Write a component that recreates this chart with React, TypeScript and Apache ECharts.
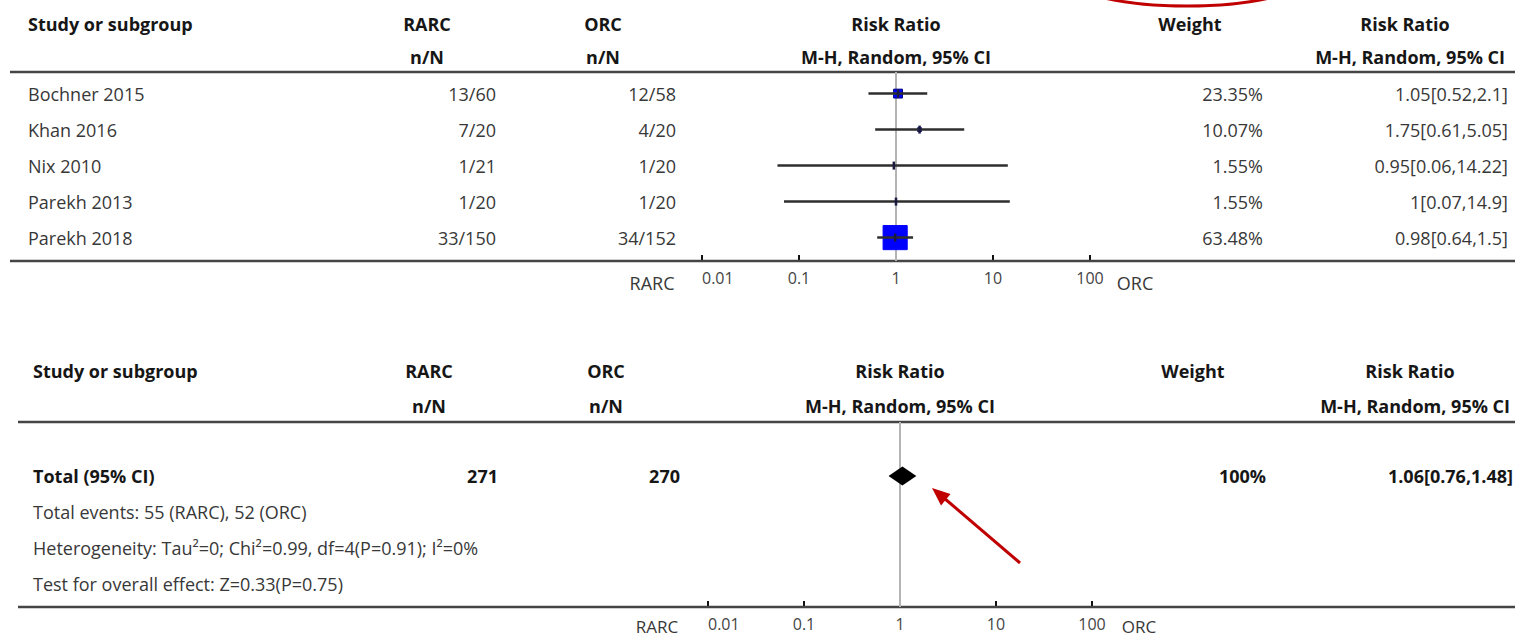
import { useEffect, useRef } from "react";
import * as echarts from "echarts";

// ---- Data -----------------------------------------------------------------
const studies = ["Bochner 2015", "Khan 2016", "Nix 2010", "Parekh 2013", "Parekh 2018"];
const rarcEvents = ["13/60", "7/20", "1/21", "1/20", "33/150"];
const orcEvents = ["12/58", "4/20", "1/20", "1/20", "34/152"];
const riskRatio = [1.05, 1.75, 0.95, 1, 0.98];
const ciLower = [0.52, 0.61, 0.06, 0.07, 0.64];
const ciUpper = [2.1, 5.05, 14.22, 14.9, 1.5];
const weights = [23.35, 10.07, 1.55, 1.55, 63.48];

const totalLabel = "Total (95% CI)";
const totalRarc = 271;
const totalOrc = 270;
const totalRR = 1.06;
const totalLower = 0.76;
const totalUpper = 1.48;
const totalWeight = 100;
const summaryNotes = [
  "Total events: 55 (RARC), 52 (ORC)",
  "Heterogeneity: Tau\u00b2=0; Chi\u00b2=0.99, df=4(P=0.91); I\u00b2=0%",
  "Test for overall effect: Z=0.33(P=0.75)",
];
const axisTicks = [0.01, 0.1, 1, 10, 100];
const groupLeft = "RARC";
const groupRight = "ORC";

// ---- Layout ---------------------------------------------------------------
const FONT = '"Open Sans", "Noto Sans", sans-serif';
const BODY = 18;
const ROW = 36;
const TOP = { left: 702, top: 72, width: 388, height: 189, yMin: -0.6 };
const BOT = { left: 708, top: 422, width: 384, height: 185, yMin: -1.5 };

const font = (bold: boolean, size = BODY) => `${bold ? "bold " : ""}${size}px ${FONT}`;
const textEl = (text: string, x: number, y: number, bold = false, align = "left", size = BODY) => ({
  type: "text",
  x,
  y,
  silent: true,
  style: {
    text,
    font: font(bold, size),
    fill: bold ? "#161616" : "#383838",
    align,
    verticalAlign: "middle",
  },
});
const rule = (y: number, x1: number, x2: number) => ({
  type: "line",
  silent: true,
  z: 1,
  shape: { x1, y1: y, x2, y2: y },
  style: { stroke: "#454545", lineWidth: 2.5 },
});

const ciText = (rr: number, lo: number, hi: number) => `${rr}[${lo},${hi}]`;

function buildOption() {
  const logAxis = (gridIndex: number) => ({
    type: "log",
    logBase: 10,
    gridIndex,
    min: axisTicks[0],
    max: axisTicks[axisTicks.length - 1],
    axisLine: { show: true, onZero: false, lineStyle: { color: "#111", width: 2 } },
    axisTick: { show: true, inside: true, length: 6, lineStyle: { color: "#111", width: 2 } },
    axisLabel: {
      show: true,
      fontSize: 16,
      fontFamily: FONT,
      color: "#444",
      margin: 9,
      alignMinLabel: "left",
      formatter: (v: number) => String(Number(v.toPrecision(2))),
    },
    splitLine: { show: false },
  });
  const rowAxis = (gridIndex: number, g: typeof TOP) => ({
    type: "value",
    gridIndex,
    inverse: true,
    min: g.yMin,
    max: g.yMin + g.height / ROW,
    show: false,
  });

  const studyRows = studies.map((_, i) => [riskRatio[i], i, ciLower[i], ciUpper[i], weights[i]]);

  const graphic: any[] = [
    // top table header
    textEl("Study or subgroup", 28, 24, true),
    textEl("RARC", 427, 24, true, "center"),
    textEl("n/N", 427, 57, true, "center"),
    textEl("ORC", 603, 24, true, "center"),
    textEl("n/N", 603, 57, true, "center"),
    textEl("Risk Ratio", 896, 24, true, "center"),
    textEl("M-H, Random, 95% CI", 896, 57, true, "center"),
    textEl("Weight", 1190, 24, true, "center"),
    textEl("Risk Ratio", 1405, 24, true, "center"),
    textEl("M-H, Random, 95% CI", 1505, 57, true, "right"),
    rule(72, 10, 1515),
    rule(261, 10, 1515),
    textEl(groupLeft, 652, 283, false, "center"),
    textEl(groupRight, 1135, 283, false, "center"),
    // bottom table header
    textEl("Study or subgroup", 33, 371, true),
    textEl("RARC", 429, 371, true, "center"),
    textEl("n/N", 429, 406, true, "center"),
    textEl("ORC", 606, 371, true, "center"),
    textEl("n/N", 606, 406, true, "center"),
    textEl("Risk Ratio", 900, 371, true, "center"),
    textEl("M-H, Random, 95% CI", 900, 406, true, "center"),
    textEl("Weight", 1193, 371, true, "center"),
    textEl("Risk Ratio", 1410, 371, true, "center"),
    textEl("M-H, Random, 95% CI", 1510, 406, true, "right"),
    rule(422, 18, 1515),
    rule(607, 18, 1515),
    textEl(groupLeft, 657, 626, false, "center", 17),
    textEl(groupRight, 1139, 626, false, "center", 17),
    // red highlight ring around the weight column heading
    {
      type: "ellipse",
      silent: true,
      shape: { cx: 1187, cy: -22, rx: 118, ry: 28 },
      style: { fill: "none", stroke: "#c00000", lineWidth: 3 },
    },
    // red arrow pointing at the pooled estimate
    {
      type: "line",
      silent: true,
      shape: { x1: 1020, y1: 563, x2: 944, y2: 498 },
      style: { stroke: "#c00000", lineWidth: 3 },
    },
    {
      type: "polygon",
      silent: true,
      shape: { points: [[932, 488], [950.5, 494], [941, 505.5]] },
      style: { fill: "#c00000" },
    },
  ];

  const refLine = (xi: number, g: typeof TOP) => ({
    type: "line",
    xAxisIndex: xi,
    yAxisIndex: xi,
    silent: true,
    showSymbol: false,
    z: 1,
    data: [
      [1, g.yMin],
      [1, g.yMin + g.height / ROW],
    ],
    lineStyle: { color: "#b4b4b4", width: 2 },
  });

  return {
    animation: false,
    backgroundColor: "#ffffff",
    grid: [
      { left: TOP.left, top: TOP.top, width: TOP.width, height: TOP.height },
      { left: BOT.left, top: BOT.top, width: BOT.width, height: BOT.height },
    ],
    xAxis: [logAxis(0), logAxis(1)],
    yAxis: [rowAxis(0, TOP), rowAxis(1, BOT)],
    graphic,
    series: [
      refLine(0, TOP),
      refLine(1, BOT),
      // study estimates: weighted box + CI whisker
      {
        type: "custom",
        xAxisIndex: 0,
        yAxisIndex: 0,
        clip: false,
        z: 3,
        data: studyRows,
        renderItem: (_p: any, api: any) => {
          const i = api.value(1);
          const p = api.coord([api.value(0), i]);
          const lo = api.coord([api.value(2), i]);
          const hi = api.coord([api.value(3), i]);
          const size = api.value(4) * 0.38;
          const children: any[] = [];
          if (size >= 2) {
            children.push({
              type: "rect",
              shape: { x: p[0] - size / 2, y: p[1] - size / 2, width: size, height: size },
              style: { fill: "#0000ff", stroke: size < 12 ? "#000080" : "#0000ff", lineWidth: 1 },
            });
          }
          children.push({
            type: "line",
            shape: { x1: lo[0], y1: lo[1], x2: hi[0], y2: hi[1] },
            style: { stroke: "#2e2e2e", lineWidth: 2.5 },
          });
          children.push({
            type: "line",
            shape: { x1: p[0], y1: p[1] - 4, x2: p[0], y2: p[1] + 4 },
            style: { stroke: "#1a1a40", lineWidth: 2.5 },
          });
          return { type: "group", children };
        },
      },
      // study table rows
      {
        type: "custom",
        xAxisIndex: 0,
        yAxisIndex: 0,
        clip: false,
        silent: true,
        data: studies.map((_, i) => [1, i]),
        renderItem: (_p: any, api: any) => {
          const i = api.value(1);
          const y = api.coord([1, i])[1];
          return {
            type: "group",
            children: [
              textEl(studies[i], 28, y),
              textEl(rarcEvents[i], 496, y, false, "right"),
              textEl(orcEvents[i], 676, y, false, "right"),
              textEl(`${weights[i]}%`, 1263, y, false, "right"),
              textEl(ciText(riskRatio[i], ciLower[i], ciUpper[i]), 1508, y, false, "right"),
            ],
          };
        },
      },
      // pooled estimate diamond
      {
        type: "custom",
        xAxisIndex: 1,
        yAxisIndex: 1,
        clip: false,
        z: 3,
        data: [[totalRR, 0, totalLower, totalUpper]],
        renderItem: (_p: any, api: any) => {
          const p = api.coord([api.value(0), 0]);
          const lo = api.coord([api.value(2), 0]);
          const hi = api.coord([api.value(3), 0]);
          const h = 9.5;
          return {
            type: "polygon",
            shape: { points: [[lo[0], p[1]], [p[0], p[1] - h], [hi[0], p[1]], [p[0], p[1] + h]] },
            style: { fill: "#000" },
          };
        },
      },
      // pooled table rows
      {
        type: "custom",
        xAxisIndex: 1,
        yAxisIndex: 1,
        clip: false,
        silent: true,
        data: [0, 1, 2, 3].map((i) => [1, i]),
        renderItem: (_p: any, api: any) => {
          const i = api.value(1);
          const y = api.coord([1, i])[1];
          if (i === 0) {
            return {
              type: "group",
              children: [
                textEl(totalLabel, 33, y, true),
                textEl(String(totalRarc), 498, y, true, "right"),
                textEl(String(totalOrc), 680, y, true, "right"),
                textEl(`${totalWeight}%`, 1266, y, true, "right"),
                textEl(ciText(totalRR, totalLower, totalUpper), 1513, y, true, "right"),
              ],
            };
          }
          return textEl(summaryNotes[i - 1], 33, y);
        },
      },
    ],
  };
}

export default function App() {
  const ref = useRef<HTMLDivElement>(null);
  useEffect(() => {
    if (!ref.current) return;
    const chart = echarts.init(ref.current, null, { renderer: "svg" });
    chart.setOption(buildOption() as any);
    return () => chart.dispose();
  }, []);
  return (
    <div
      ref={ref}
      style={{ position: "fixed", left: 0, top: 0, width: 1515, height: 637, background: "#fff" }}
    />
  );
}
